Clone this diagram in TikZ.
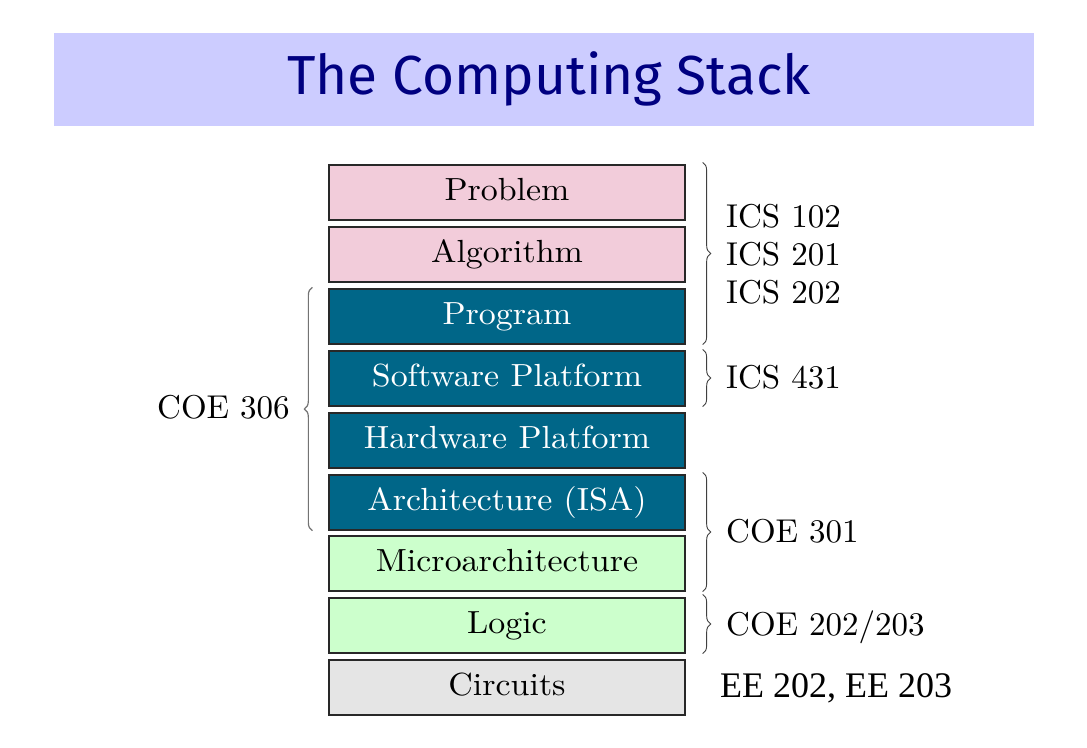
\documentclass[tikz,border=0pt]{standalone}
\usepackage{fontspec}
\setmainfont{lmroman10-regular.otf}
\newfontfamily\layerfont{lmroman10-regular.otf}[FakeStretch=1.06]
\newfontfamily\titlefont{Fira Sans}
\newfontfamily\timesfont{Liberation Serif}
\usetikzlibrary{decorations.pathreplacing,calc}

\definecolor{banner}{RGB}{204,204,255}
\definecolor{titleblue}{RGB}{0,0,128}
\definecolor{pinkfill}{RGB}{242,204,218}
\definecolor{tealfill}{RGB}{0,102,136}
\definecolor{greenfill}{RGB}{204,255,204}
\definecolor{grayfill}{RGB}{229,229,229}
\definecolor{boxline}{RGB}{40,40,40}

\tikzset{
  layer/.style={draw=boxline, line width=1.3pt, minimum width=356pt, minimum height=55pt,
    inner sep=0pt, font=\layerfont\fontsize{32}{32}\selectfont, text height=22pt, text depth=6pt},
  upper/.style={layer, fill=pinkfill, text=black},
  middle/.style={layer, fill=tealfill, text=white},
  lower/.style={layer, fill=greenfill, text=black},
  bottom/.style={layer, fill=grayfill, text=black},
  rbrace/.style={decorate, decoration={brace, amplitude=8pt}, draw=black!75, line width=0.9pt},
  lbrace/.style={decorate, decoration={brace, amplitude=8pt}, draw=black!55, line width=1.2pt},
  course/.style={anchor=base west, inner sep=0pt, font=\fontsize{33}{33}\selectfont}
}

\begin{document}
\begin{tikzpicture}[x=1pt, y=-1pt]
  \useasboundingbox (0,0) rectangle (1087,747);

  % title banner
  \fill[banner] (54,33) rectangle (1034,126);
  \node[text=titleblue, font=\titlefont\fontsize{55}{55}\selectfont, inner sep=0pt] (title) at (549,79) {The Computing Stack};

  % the stack of layers, top to bottom
  \node[upper]  (prob)  at (507,192.5) {Problem};
  \node[upper]  (alg)   at (507,254.5) {Algorithm};
  \node[middle] (prog)  at (507,316.5) {Program};
  \node[middle] (swp)   at (507,378.5) {Software Platform};
  \node[middle] (hwp)   at (507,440.5) {Hardware Platform};
  \node[middle] (isa)   at (507,502.5) {Architecture (ISA)};
  \node[lower]  (micro) at (507,563.5) {Microarchitecture};
  \node[lower]  (logic) at (507,625.5) {Logic};
  \node[bottom] (circ)  at (507,687.5) {Circuits};

  % course braces on the right
  \draw[rbrace] ($(prob.north east)+(17,-2)$) -- ($(prog.south east)+(17,0)$);
  \draw[rbrace] ($(swp.north east)+(17,-1)$) -- ($(swp.south east)+(17,0)$);
  \draw[rbrace] ($(isa.north east)+(17,-2)$) -- ($(micro.south east)+(17,0)$);
  \draw[rbrace] ($(logic.north east)+(17,-3)$) -- ($(logic.south east)+(17,0)$);

  % course brace on the left
  \draw[lbrace] ($(isa.south west)+(-16,0)$) -- ($(prog.north west)+(-16,-1)$);

  % course labels
  \node[course] (c102) at (726,227) {ICS 102};
  \node[course] (c201) at (726,265) {ICS 201};
  \node[course] (c202) at (726,303) {ICS 202};
  \node[course] (c431) at (726,388) {ICS 431};
  \node[course] (c301) at (726,542) {COE 301};
  \node[course] (c203) at (726,635) {COE 202/203};
  \node[course, font=\timesfont\fontsize{36}{36}\selectfont] (ee) at (720,697) {EE 202, EE 203};
  \node[course] (c306) at (157,418) {COE 306};
\end{tikzpicture}
\end{document}
